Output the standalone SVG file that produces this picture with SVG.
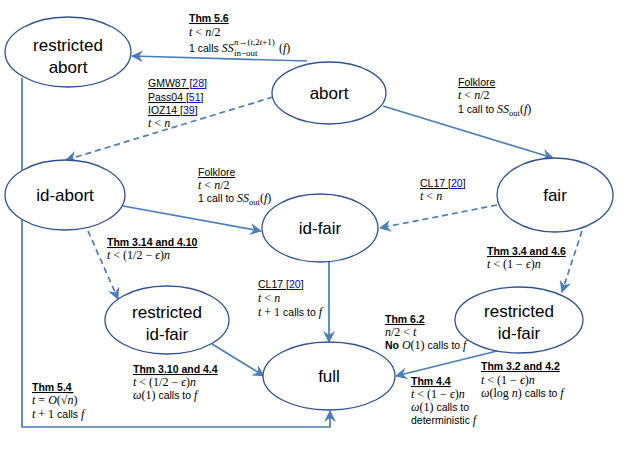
<svg xmlns="http://www.w3.org/2000/svg" width="630" height="473" viewBox="0 0 630 473">
<style>
.node ellipse{fill:#fff;stroke:#2f528f;stroke-width:1.3}
.node text{font-family:"Liberation Sans",Arial,sans-serif;font-size:17px;fill:#000;text-anchor:middle}
.conn path{fill:none;stroke:#4a7ebb;stroke-width:1.7}
.conn .d{stroke-dasharray:6,4}
.lbl{font-family:"Liberation Sans",Arial,sans-serif;font-size:10.5px;fill:#000}
.m{font-family:"Liberation Serif","Times New Roman",serif;font-style:italic;font-size:12px}
.r{font-family:"Liberation Serif","Times New Roman",serif;font-style:normal;font-size:12px}
.b{font-weight:bold;text-decoration:underline}
.u{text-decoration:underline}
.lk{fill:#0000ee;text-decoration:underline}
.s{font-family:"Liberation Serif","Times New Roman",serif;font-size:8.5px}
.s2{font-family:"Liberation Serif","Times New Roman",serif;font-size:9px}
</style>
<defs>
<marker id="ah" viewBox="0 0 12 12" refX="11" refY="6" markerWidth="12" markerHeight="12" markerUnits="userSpaceOnUse" orient="auto">
<path d="M0,0 L12,6 L0,12 L4,6 z" fill="#4a7ebb"/>
</marker>
</defs>
<g class="conn">
<path d="M307,61 L132,56" marker-end="url(#ah)"/>
<path class="d" d="M273,97 L66,160" marker-end="url(#ah)"/>
<path d="M383,106 L553,158" marker-end="url(#ah)"/>
<path d="M123,206 L261,231" marker-end="url(#ah)"/>
<path class="d" d="M497,205 L380,228" marker-end="url(#ah)"/>
<path class="d" d="M88,231 L118,299" marker-end="url(#ah)"/>
<path class="d" d="M582,231 L562,292" marker-end="url(#ah)"/>
<path d="M329,262 L329,342" marker-end="url(#ah)"/>
<path d="M212,344 L264,376" marker-end="url(#ah)"/>
<path d="M497,351 L396,376" marker-end="url(#ah)"/>
<path d="M22,78 L22,427 L330,427 L330,411" marker-end="url(#ah)"/>
</g>
<g id="restricted-abort" class="node"><ellipse cx="68" cy="52" rx="63" ry="35"/><text x="68" y="51">restricted</text><text x="68" y="73">abort</text></g>
<g id="abort" class="node"><ellipse cx="329" cy="93" rx="57" ry="31"/><text x="329" y="99">abort</text></g>
<g id="id-abort" class="node"><ellipse cx="65" cy="195" rx="60" ry="35"/><text x="65" y="201">id-abort</text></g>
<g id="fair" class="node"><ellipse cx="555" cy="195" rx="58" ry="37"/><text x="555" y="201">fair</text></g>
<g id="id-fair" class="node"><ellipse cx="320" cy="228" rx="58" ry="34"/><text x="320" y="234">id-fair</text></g>
<g id="restricted-id-fair-left" class="node"><ellipse cx="167" cy="320" rx="62" ry="34"/><text x="167" y="318">restricted</text><text x="167" y="340">id-fair</text></g>
<g id="restricted-id-fair-right" class="node"><ellipse cx="519" cy="320" rx="64" ry="33"/><text x="519" y="317">restricted</text><text x="519" y="339">id-fair</text></g>
<g id="full" class="node"><ellipse cx="329" cy="376" rx="66" ry="34"/><text x="329" y="382">full</text></g>
<g id="labels">
<text class="lbl" x="189" y="22"><tspan class="b">Thm 5.6</tspan></text>
<text class="lbl" x="189" y="36"><tspan class="m">t</tspan><tspan class="r"> &lt; </tspan><tspan class="m">n</tspan><tspan class="r">/2</tspan></text>
<text class="lbl" x="189" y="52">1 calls <tspan class="m">SS</tspan></text>
<text class="s2" x="234" y="45"><tspan font-style="italic">n</tspan>→(<tspan font-style="italic">t</tspan>,2<tspan font-style="italic">t</tspan>+1)</text>
<text class="s2" x="234" y="56">in−out</text>
<text class="lbl" x="279" y="52"><tspan class="r">(</tspan><tspan class="m">f</tspan><tspan class="r">)</tspan></text>

<text class="lbl" x="148" y="87"><tspan class="u">GMW87 [</tspan><tspan class="lk">28</tspan><tspan class="u">]</tspan></text>
<text class="lbl" x="148" y="101"><tspan class="u">Pass04 [</tspan><tspan class="lk">51</tspan><tspan class="u">]</tspan></text>
<text class="lbl" x="148" y="114"><tspan class="u">IOZ14 [</tspan><tspan class="lk">39</tspan><tspan class="u">]</tspan></text>
<text class="lbl" x="148" y="127"><tspan class="m">t</tspan><tspan class="r"> &lt; </tspan><tspan class="m">n</tspan></text>

<text class="lbl" x="458" y="86"><tspan class="u">Folklore</tspan></text>
<text class="lbl" x="458" y="99"><tspan class="m">t</tspan><tspan class="r"> &lt; </tspan><tspan class="m">n</tspan><tspan class="r">/2</tspan></text>
<text class="lbl" x="458" y="113">1 call to <tspan class="m">SS</tspan><tspan class="s" dy="3">out</tspan><tspan class="r" dy="-3">(</tspan><tspan class="m">f</tspan><tspan class="r">)</tspan></text>

<text class="lbl" x="198" y="176"><tspan class="u">Folklore</tspan></text>
<text class="lbl" x="198" y="189"><tspan class="m">t</tspan><tspan class="r"> &lt; </tspan><tspan class="m">n</tspan><tspan class="r">/2</tspan></text>
<text class="lbl" x="198" y="202">1 call to <tspan class="m">SS</tspan><tspan class="s" dy="3">out</tspan><tspan class="r" dy="-3">(</tspan><tspan class="m">f</tspan><tspan class="r">)</tspan></text>

<text class="lbl" x="420" y="187"><tspan class="u">CL17 [</tspan><tspan class="lk">20</tspan><tspan class="u">]</tspan></text>
<text class="lbl" x="420" y="200"><tspan class="m">t</tspan><tspan class="r"> &lt; </tspan><tspan class="m">n</tspan></text>

<text class="lbl" x="107" y="246"><tspan class="b">Thm 3.14 and 4.10</tspan></text>
<text class="lbl" x="107" y="259"><tspan class="m">t</tspan><tspan class="r"> &lt; (1/2 − </tspan><tspan class="m">ϵ</tspan><tspan class="r">)</tspan><tspan class="m">n</tspan></text>

<text class="lbl" x="487" y="255"><tspan class="b">Thm 3.4 and 4.6</tspan></text>
<text class="lbl" x="487" y="268"><tspan class="m">t</tspan><tspan class="r"> &lt; (1 − </tspan><tspan class="m">ϵ</tspan><tspan class="r">)</tspan><tspan class="m">n</tspan></text>

<text class="lbl" x="258" y="288"><tspan class="u">CL17 [</tspan><tspan class="lk">20</tspan><tspan class="u">]</tspan></text>
<text class="lbl" x="258" y="302"><tspan class="m">t</tspan><tspan class="r"> &lt; </tspan><tspan class="m">n</tspan></text>
<text class="lbl" x="258" y="316"><tspan class="m">t</tspan><tspan class="r"> + 1</tspan> calls to <tspan class="m">f</tspan></text>

<text class="lbl" x="385" y="323"><tspan class="b">Thm 6.2</tspan></text>
<text class="lbl" x="385" y="336"><tspan class="m">n</tspan><tspan class="r">/2 &lt; </tspan><tspan class="m">t</tspan></text>
<text class="lbl" x="385" y="349"><tspan font-weight="bold">No</tspan> <tspan class="m">O</tspan><tspan class="r">(1)</tspan> calls to <tspan class="m">f</tspan></text>

<text class="lbl" x="133" y="373"><tspan class="b">Thm 3.10 and 4.4</tspan></text>
<text class="lbl" x="133" y="386"><tspan class="m">t</tspan><tspan class="r"> &lt; (1/2 − </tspan><tspan class="m">ϵ</tspan><tspan class="r">)</tspan><tspan class="m">n</tspan></text>
<text class="lbl" x="133" y="399"><tspan class="m">ω</tspan><tspan class="r">(1)</tspan> calls to <tspan class="m">f</tspan></text>

<text class="lbl" x="411" y="385"><tspan class="b">Thm 4.4</tspan></text>
<text class="lbl" x="411" y="398"><tspan class="m">t</tspan><tspan class="r"> &lt; (1 − </tspan><tspan class="m">ϵ</tspan><tspan class="r">)</tspan><tspan class="m">n</tspan></text>
<text class="lbl" x="411" y="411"><tspan class="m">ω</tspan><tspan class="r">(1)</tspan> calls to</text>
<text class="lbl" x="411" y="424">deterministic <tspan class="m">f</tspan></text>

<text class="lbl" x="481" y="370"><tspan class="b">Thm 3.2 and 4.2</tspan></text>
<text class="lbl" x="481" y="384"><tspan class="m">t</tspan><tspan class="r"> &lt; (1 − </tspan><tspan class="m">ϵ</tspan><tspan class="r">)</tspan><tspan class="m">n</tspan></text>
<text class="lbl" x="481" y="397"><tspan class="m">ω</tspan><tspan class="r">(log </tspan><tspan class="m">n</tspan><tspan class="r">)</tspan> calls to <tspan class="m">f</tspan></text>

<text class="lbl" x="32" y="391"><tspan class="b">Thm 5.4</tspan></text>
<text class="lbl" x="32" y="404"><tspan class="m">t</tspan><tspan class="r"> = </tspan><tspan class="m">O</tspan><tspan class="r">(√</tspan><tspan class="m" text-decoration="overline">n</tspan><tspan class="r">)</tspan></text>
<text class="lbl" x="32" y="418"><tspan class="m">t</tspan><tspan class="r"> + 1</tspan> calls <tspan class="m">f</tspan></text>
</g>
</svg>
